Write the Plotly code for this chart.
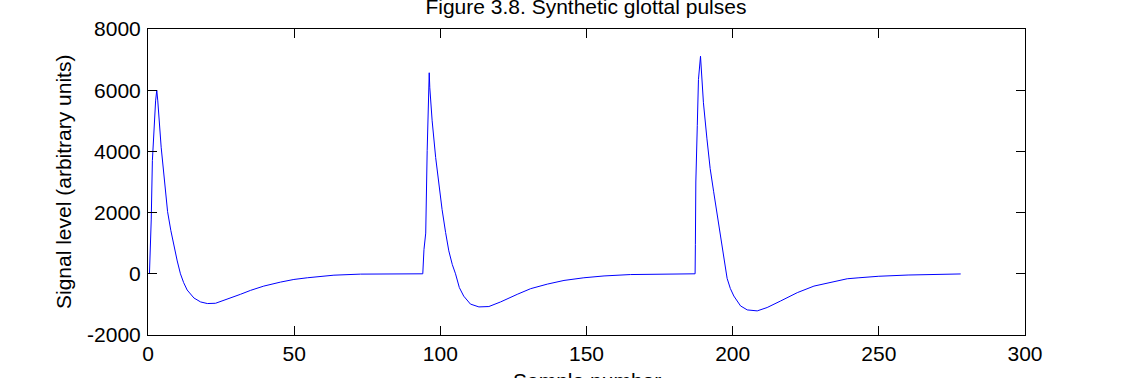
import plotly.graph_objects as go

# ---- data (sample number, signal level) ----
pulse1_x = [0.5, 1.1, 1.5, 2.2, 2.6, 3.0, 3.35, 4.5, 5.6, 6.7, 7.8, 8.9, 10.0, 11.1, 12.2,
            13.4, 15.7, 18.0, 20.3, 23.1, 27.1, 31.6, 35.1, 39.6, 45.3, 49.9, 54.5,
            58.4, 63.6, 72.7, 80.0, 94.0]
pulse1_y = [0, 1760, 3700, 5000, 5650, 6000, 5650, 4136, 3057, 2030, 1420, 897, 420, 0, -290,
            -530, -790, -920, -972, -963, -833, -671, -541, -402, -272, -185, -130,
            -97, -45, -10, -3, 0]

pulse2_x = [94.4, 95.0, 95.5, 95.9, 96.2, 96.4, 97.2, 98.4, 99.5, 100.6, 101.8, 102.9,
            104.1, 105.2, 106.5, 108.0, 110.3, 113.2, 116.6, 120.6, 126.3, 130.9, 136.6,
            142.3, 149.1, 156.0, 165.0, 175.0, 187.15]
pulse2_y = [790, 1330, 4030, 5760, 6570, 6080, 5000, 3800, 2840, 2100, 1350, 750,
            300, 0, -450, -730, -990, -1082, -1070, -920, -671, -486, -337,
            -217, -130, -70, -25, -5, 0]

pulse3_x = [187.25, 187.4, 187.9, 188.3, 189.0, 189.4, 190.0, 191.2, 192.3, 193.5, 195.2,
            196.9, 198.1, 199.2, 200.4, 202.7, 205.0, 208.4, 211.8, 216.4, 222.1, 227.8,
            233.5, 239.2, 243.2, 250.0, 260.0, 270.0, 278.0]
pulse3_y = [950, 3000, 4840, 6350, 7110, 6350, 5590, 4410, 3440, 2680, 1600,
            520, -150, -480, -726, -1050, -1180, -1212, -1102, -888, -616, -402,
            -272, -162, -130, -80, -40, -15, -5]

x_ticks = [0, 50, 100, 150, 200, 250, 300]
y_ticks = [-2000, 0, 2000, 4000, 6000, 8000]

samples = pulse1_x + pulse2_x + pulse3_x
levels = pulse1_y + pulse2_y + pulse3_y

FONT = "Liberation Sans, Arial, sans-serif"

fig = go.Figure()
fig.add_trace(go.Scatter(x=samples, y=levels, mode="lines",
                         line=dict(color="#0000ff", width=1), showlegend=False))

axis_common = dict(showline=True, linecolor="black", linewidth=1, mirror="ticks",
                   ticks="inside", ticklen=9, tickcolor="black", showgrid=False,
                   zeroline=False, tickfont=dict(family=FONT, size=21, color="black"))

fig.update_xaxes(range=[0, 300], tickvals=x_ticks, ticktext=[str(v) for v in x_ticks],
                 **axis_common)
fig.update_yaxes(range=[-2000, 8000], tickvals=y_ticks, ticktext=[str(v) for v in y_ticks],
                 ticklabelstandoff=2, **axis_common)

fig.update_layout(
    width=1134, height=378,
    margin=dict(l=148, r=109, t=29, b=43, pad=0),
    paper_bgcolor="white", plot_bgcolor="white",
    font=dict(family=FONT, size=21, color="black"),
    title=dict(text="Figure 3.8. Synthetic glottal pulses", x=0.5167, xanchor="center",
               y=1 - 6.5 / 378, yanchor="middle", yref="container",
               font=dict(family=FONT, size=21, color="black")),
)

fig.add_annotation(text="Sample number", xref="paper", yref="paper", x=0.5, y=-0.1046,
                   xanchor="center", yanchor="top", showarrow=False,
                   font=dict(family=FONT, size=21, color="black"))
fig.add_annotation(text="Signal level (arbitrary units)", xref="paper", yref="paper",
                   x=-0.0969, y=0.5, xanchor="center", yanchor="middle", textangle=-90,
                   showarrow=False, font=dict(family=FONT, size=21, color="black"))

fig.write_html("out.html")
